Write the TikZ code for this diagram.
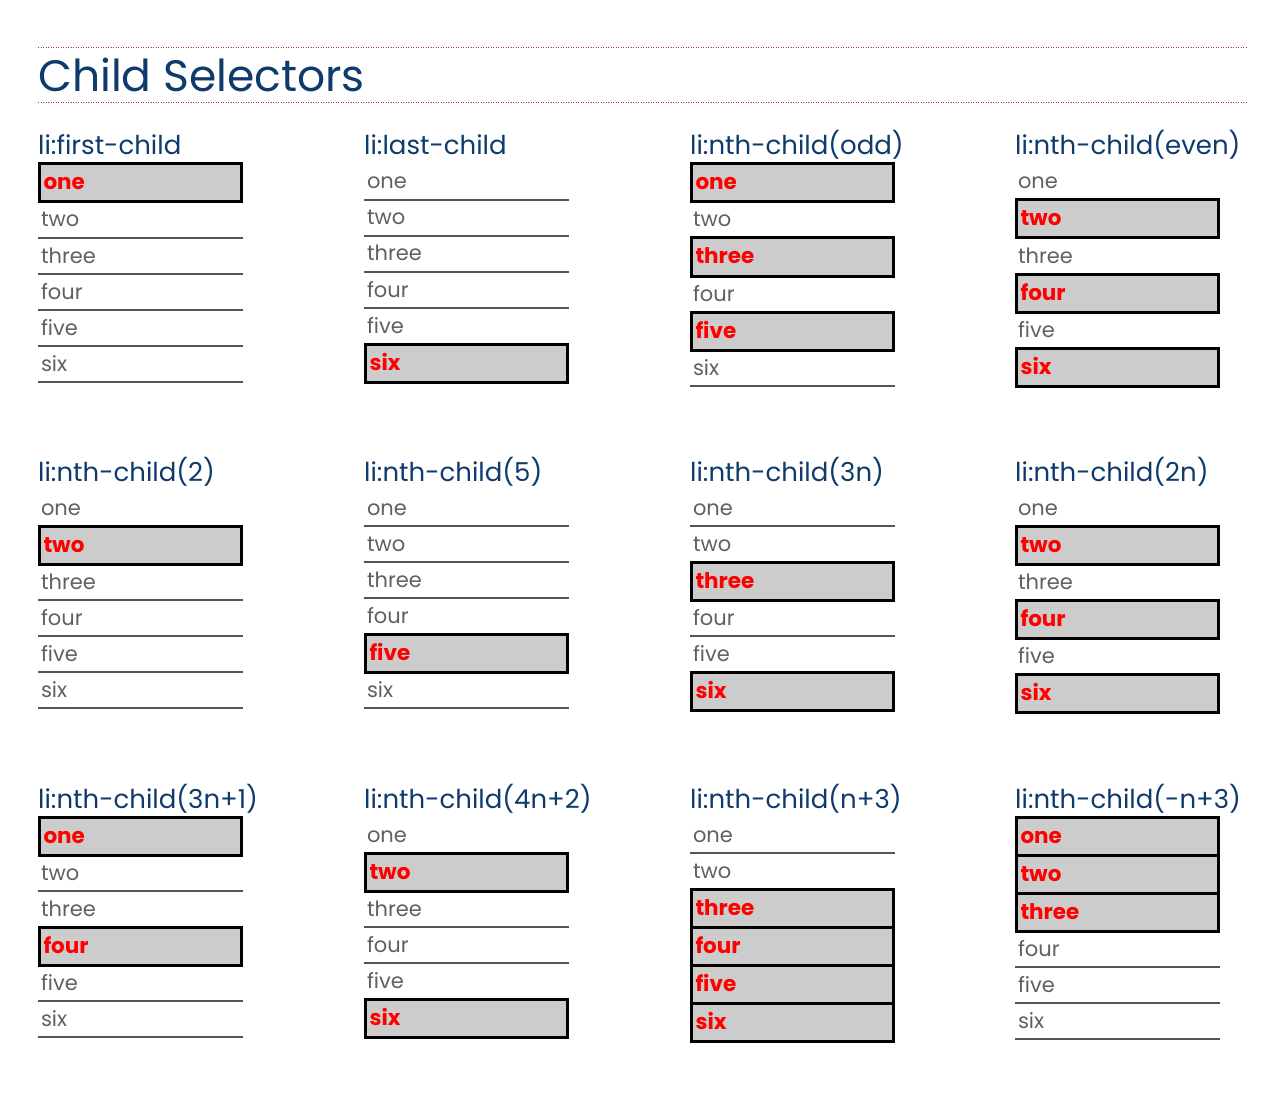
\documentclass[tikz,border=0pt]{standalone}
\usepackage{fontspec}
\setmainfont{Poppins}
\usetikzlibrary{positioning}
\definecolor{navy}{HTML}{0E3A6C}
\definecolor{itemgray}{HTML}{606060}
\definecolor{rulegray}{HTML}{555555}
\definecolor{boxgray}{HTML}{CCCCCC}
\definecolor{dotred}{HTML}{A33A3A}
\newcommand{\itemWord}[1]{\ifcase#1\or one\or two\or three\or four\or five\or six\fi}
% one list: name, x, top, header, styles of the six items
\newcommand{\selList}[5]{%
  \coordinate (#10) at (#2+102.5,#3);
  \node[head] (#1H) at (#2,#3-9) {#4};
  \foreach \s [count=\i, remember=\i as \j (initially 0)] in {#5}
    \node[\s, below=0pt of #1\j] (#1\i) {\itemWord{\i}};
}

\begin{document}
\begin{tikzpicture}[
    x=1pt, y=-1pt,
    title/.style={anchor=base west, inner sep=0pt, text=navy, font=\fontsize{44}{50}\selectfont},
    head/.style={anchor=base west, inner sep=0pt, text=navy, font=\fontsize{26}{31}\selectfont},
    rule/.style={dotred, line width=1pt, dash pattern=on 1.2pt off 1.3pt},
    item/.style={outer sep=0pt, minimum width=205pt, minimum height=36pt, text width=199pt,
                 inner xsep=3pt, inner ysep=0pt, text height=17pt, text depth=3pt, align=left,
                 text=itemgray, font=\fontsize{21}{25}\selectfont,
                 append after command={(\tikzlastnode.south west) edge[draw=rulegray, line width=1.2pt] (\tikzlastnode.south east)}},
    hit/.style={outer sep=0pt, minimum width=202pt, minimum height=38pt, text width=194pt,
                inner xsep=4pt, inner ysep=0pt, text height=17pt, text depth=3pt, align=left,
                draw=black, line width=3pt, fill=boxgray, text=red, font=\bfseries\fontsize{21.5}{25}\selectfont}
]
\useasboundingbox (0,0) rectangle (1288,1094);

% Titel
\node[title] (title) at (38,92) {Child Selectors};
\draw[rule] (38,48) -- (1246,48);
\draw[rule] (38,103) -- (1246,103);

% erste Reihe
\selList{first}{38}{164}{li:first-child}{hit,item,item,item,item,item}
\selList{last}{364}{164}{li:last-child}{item,item,item,item,item,hit}
\selList{odd}{690}{164}{li:nth-child(odd)}{hit,item,hit,item,hit,item}
\selList{even}{1015}{164}{li:nth-child(even)}{item,hit,item,hit,item,hit}

% zweite Reihe
\selList{two}{38}{490}{li:nth-child(2)}{item,hit,item,item,item,item}
\selList{five}{364}{490}{li:nth-child(5)}{item,item,item,item,hit,item}
\selList{tri}{690}{490}{li:nth-child(3n)}{item,item,hit,item,item,hit}
\selList{dbl}{1015}{490}{li:nth-child(2n)}{item,hit,item,hit,item,hit}

% dritte Reihe
\selList{triA}{38}{817}{li:nth-child(3n+1)}{hit,item,item,hit,item,item}
\selList{quadB}{364}{817}{li:nth-child(4n+2)}{item,hit,item,item,item,hit}
\selList{plusC}{690}{817}{li:nth-child(n+3)}{item,item,hit,hit,hit,hit}
\selList{minusC}{1015}{817}{li:nth-child(-n+3)}{hit,hit,hit,item,item,item}

\end{tikzpicture}
\end{document}
